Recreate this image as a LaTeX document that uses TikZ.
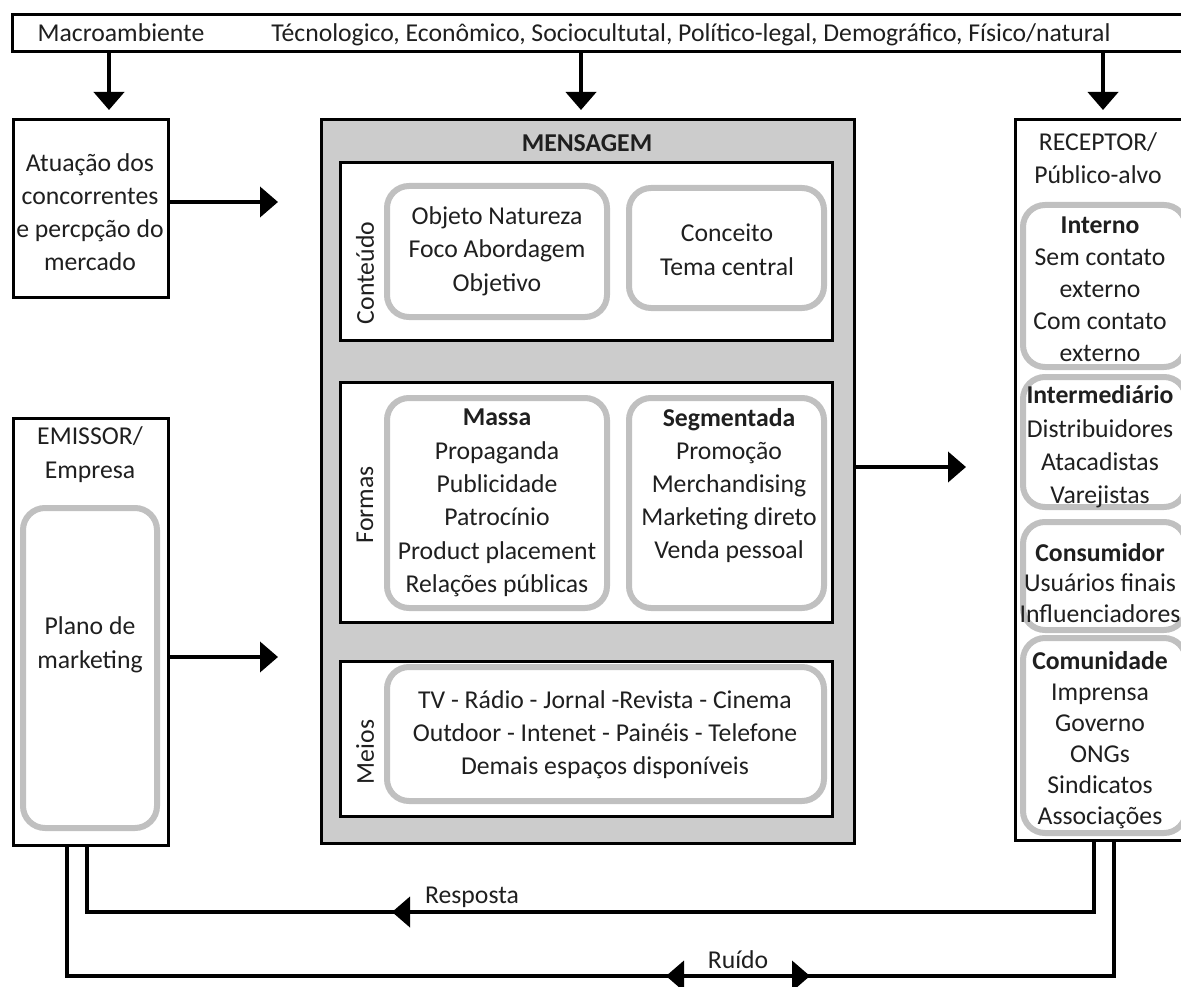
\documentclass[tikz,border=0pt]{standalone}
\usepackage{fontspec}
\setmainfont{Carlito}
\usetikzlibrary{arrows.meta}
\definecolor{msggray}{RGB}{204,204,204}
\definecolor{rgray}{RGB}{192,192,192}
\newcommand{\BX}[6]{\node[#2, minimum width={#5-#3}, minimum height={#6-#4}] (#1) at ({(#3+#5)/2},{(#4+#6)/2}) {};}
\begin{document}
\begin{tikzpicture}[x=1pt,y=-1pt,
  box/.style={draw=black, line width=3pt, inner sep=0pt, outer sep=0pt},
  rbox/.style={draw=rgray, line width=6pt, rounded corners=22pt, inner sep=0pt, outer sep=0pt, fill=white},
  txt/.style={font=\fontsize{25.7}{#1}\selectfont, align=center, inner sep=0pt, text=black!88},
  txt/.default=33,
  conn/.style={line width=4pt},
  arr/.style={line width=4pt, -{Triangle[width=30pt,length=18pt]}},
]
\useasboundingbox (0,0) rectangle (1181,987);
\fill[white] (0,0) rectangle (1181,987);
\clip (0,0) rectangle (1181,987);

% top bar
\BX{bar}{box}{12}{15}{1190}{52}
\node[txt, anchor=base] (macro) at (121,42) {Macroambiente};
\node[txt, anchor=base] (fat) at (691,42) {Técnologico, Econômico, Sociocultutal, Político-legal, Demográfico, Físico/natural};

% Atuacao
\BX{atu}{box}{13}{120}{168}{297}
\node[txt=33] (atut) at (90,212) {Atuação dos\\concorrentes\\e percpção do\\mercado};

% Mensagem
\BX{msg}{box, fill=msggray}{321}{120}{854}{843}
\node[txt] (msgt) at (587,143) {\bfseries MENSAGEM};

\BX{cont}{box, fill=white}{340}{163}{832}{340}
\BX{r1}{rbox}{387}{186}{607}{317}
\BX{r2}{rbox}{629}{188}{824}{308}
\node[txt, rotate=90] (contl) at (365,273) {Conteúdo};
\node[txt=33.5] (r1t) at (497,251) {Objeto Natureza\\Foco Abordagem\\Objetivo};
\node[txt=34] (r2t) at (727,250) {Conceito\\Tema central};

\BX{form}{box, fill=white}{340}{382}{832}{622}
\BX{mas}{rbox}{387}{398}{607}{608}
\BX{seg}{rbox}{629}{398}{824}{608}
\node[txt, rotate=90] (forml) at (365,505) {Formas};
\node[txt=33.4] (mast) at (497,503) {\textbf{Massa}\\Propaganda\\Publicidade\\Patrocínio\\Product placement\\Relações públicas};
\node[txt=33] (segt) at (729,486) {\textbf{Segmentada}\\Promoção\\Merchandising\\Marketing direto\\Venda pessoal};

\BX{meios}{box, fill=white}{340}{661}{832}{816}
\BX{mr}{rbox}{387}{667}{824}{801}
\node[txt, rotate=90] (meiosl) at (365,752) {Meios};
\node[txt=33] (mrt) at (605,735) {TV - Rádio - Jornal -Revista - Cinema\\Outdoor - Intenet - Painéis - Telefone\\Demais espaços disponíveis};

% Receptor
\BX{rec}{box}{1015}{120}{1190}{840}
\node[txt=33] (rect) at (1098,158) {RECEPTOR/\\Público-alvo};
\BX{rint}{rbox}{1023}{205}{1186}{367}
\node[txt=32] (rintt) at (1100,289) {\textbf{Interno}\\Sem contato\\externo\\Com contato\\externo};
\BX{rinm}{rbox}{1023}{377}{1186}{507}
\node[txt=33.3] (rinmt) at (1100,447) {\textbf{Intermediário}\\Distribuidores\\Atacadistas\\Varejistas};
\BX{rcon}{rbox}{1023}{522}{1186}{630}
\node[txt=30.5] (rcont) at (1100,583) {\textbf{Consumidor}\\Usuários finais\\Influenciadores};
\BX{rcom}{rbox}{1023}{638}{1186}{833}
\node[txt=31] (rcomt) at (1100,740) {\textbf{Comunidade}\\Imprensa\\Governo\\ONGs\\Sindicatos\\Associações};

% Emissor
\BX{emi}{box}{13}{418}{168}{845}
\node[txt=34] (emit) at (90,455) {EMISSOR/\\Empresa};
\BX{plan}{rbox}{23}{508}{157}{828}
\node[txt=34] (plant) at (90,645) {Plano de\\marketing};

% arrows from top bar
\coordinate (t1) at (109,110);
\coordinate (t2) at (581,110);
\coordinate (t3) at (1103,110);
\draw[arr] (bar.south -| t1) -- (t1);
\draw[arr] (bar.south -| t2) -- (t2);
\draw[arr] (bar.south -| t3) -- (t3);

% horizontal arrows
\coordinate (a1) at (278,202);
\coordinate (a2) at (278,657);
\coordinate (a3) at (966,467);
\draw[arr] (atu.east |- a1) -- (a1);
\draw[arr] (emi.east |- a2) -- (a2);
\draw[arr] (msg.east |- a3) -- (a3);

% Resposta loop
\coordinate (respL) at (87,912);
\coordinate (respR) at (1094,912);
\coordinate (respTip) at (392,912);
\draw[conn] (emi.south -| respL) -- (respL) -- (respR) -- (rec.south -| respR);
\draw[arr] (respR) -- (respTip);
\node[txt] (resp) at (472,897) {Resposta};

% Ruido loop
\coordinate (ruiL) at (67,976);
\coordinate (ruiR) at (1114,976);
\coordinate (ruiC) at (738,976);
\coordinate (ruiTL) at (666,976);
\coordinate (ruiTR) at (810,976);
\draw[conn] (emi.south -| ruiL) -- (ruiL) -- (ruiR) -- (rec.south -| ruiR);
\draw[arr] (ruiC) -- (ruiTL);
\draw[arr] (ruiC) -- (ruiTR);
\node[txt] (rui) at (738,960) {Ruído};
\end{tikzpicture}
\end{document}
